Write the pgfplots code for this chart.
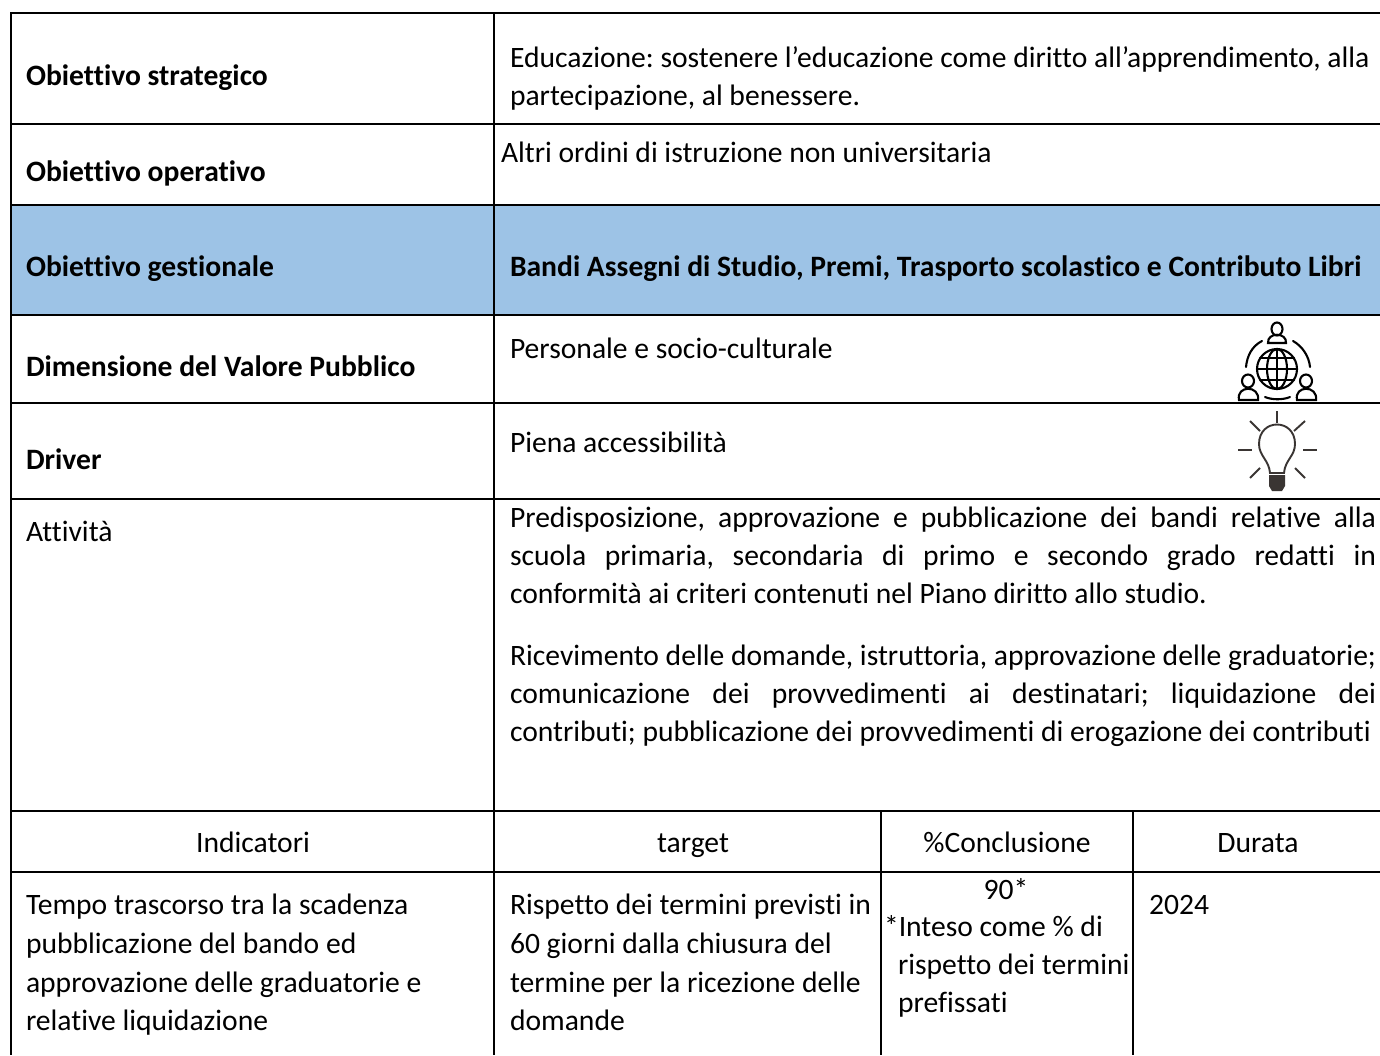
\documentclass[border=0pt]{standalone}
\usepackage{pgfplots}
\pgfplotsset{compat=1.18}
\usepackage{fontspec}
\setmainfont[RawFeature={-liga;-clig}]{Carlito}
\definecolor{rowblue}{HTML}{9DC3E6}
\definecolor{bulb}{HTML}{3A3533}
\newcommand{\T}[3]{\node[anchor=base west,inner sep=0pt,outer sep=0pt] at (axis cs:#1,#2) {\strut\smash{#3}};}
\newcommand{\C}[3]{\node[anchor=base,inner sep=0pt,outer sep=0pt] at (axis cs:#1,#2) {#3};}
\newcommand{\J}[4]{\node[anchor=base west,inner sep=0pt,outer sep=0pt] at (axis cs:#1,#2) {\makebox[#3pt][s]{#4}};}
\begin{document}
\frenchspacing
\begin{tikzpicture}
\begin{axis}[
  scale only axis, width=1380pt, height=1055pt,
  xmin=0, xmax=1380, ymin=0, ymax=1055, y dir=reverse,
  axis lines=none, ticks=none, clip=true,
  font=\fontsize{29.6}{34}\selectfont]
% background and coloured row
\addplot[draw=none,fill=white] coordinates {(0,0)(1380,0)(1380,1055)(0,1055)} -- cycle;
\addplot[draw=none,fill=rowblue] coordinates {(11,205)(1380,205)(1380,315)(11,315)} -- cycle;
% rules
\addplot[black,line width=2.8pt] coordinates {(11,13)(1380,13)};
\addplot[black,line width=2.6pt] coordinates {(11,124)(1380,124)};
\addplot[black,line width=2.8pt] coordinates {(11,205)(1380,205)};
\addplot[black,line width=2.8pt] coordinates {(11,315)(1380,315)};
\addplot[black,line width=2.6pt] coordinates {(11,403)(1380,403)};
\addplot[black,line width=2.6pt] coordinates {(11,499)(1380,499)};
\addplot[black,line width=2.6pt] coordinates {(11,811)(1380,811)};
\addplot[black,line width=2.6pt] coordinates {(11,872)(1380,872)};
\addplot[black,line width=2.8pt] coordinates {(11,12)(11,1055)};
\addplot[black,line width=2.6pt] coordinates {(494,12)(494,1055)};
\addplot[black,line width=2.6pt] coordinates {(881,811)(881,1055)};
\addplot[black,line width=2.6pt] coordinates {(1133,811)(1133,1055)};
% left column
\T{26}{85}{\bfseries Obiettivo strategico}
\T{26}{181}{\bfseries Obiettivo operativo}
\T{26}{276}{\bfseries Obiettivo gestionale}
\T{26}{376}{\bfseries Dimensione del Valore Pubblico}
\T{26}{469}{\bfseries Driver}
\T{26}{541}{Attività}
% right column
\T{510}{67}{Educazione: sostenere l’educazione come diritto all’apprendimento, alla}
\T{510}{105}{partecipazione, al benessere.}
\T{501}{162}{Altri ordini di istruzione non universitaria}
\T{510}{276}{\bfseries Bandi Assegni di Studio, Premi, Trasporto scolastico e Contributo Libri}
\T{510}{358}{Personale e socio-culturale}
\T{510}{452}{Piena accessibilità}
\J{510}{527}{866}{Predisposizione, approvazione e pubblicazione dei bandi relative alla}
\J{510}{565}{866}{scuola primaria, secondaria di primo e secondo grado redatti in}
\T{510}{603}{conformità ai criteri contenuti nel Piano diritto allo studio.}
\J{510}{665}{866}{Ricevimento delle domande, istruttoria, approvazione delle graduatorie;}
\J{510}{703}{866}{comunicazione dei provvedimenti ai destinatari; liquidazione dei}
\T{510}{741}{contributi; pubblicazione dei provvedimenti di erogazione dei contributi}
% header of the lower table
\C{253}{852}{Indicatori}
\C{693}{852}{target}
\C{1007}{852}{\%Conclusione}
\C{1258}{852}{Durata}
% lower row
\T{26}{914}{Tempo trascorso tra la scadenza}
\T{26}{953}{pubblicazione del bando ed}
\T{26}{992}{approvazione delle graduatorie e}
\T{26}{1030}{relative liquidazione}
\T{510}{914}{Rispetto dei termini previsti in}
\T{510}{953}{60 giorni dalla chiusura del}
\T{510}{992}{termine per la ricezione delle}
\T{510}{1030}{domande}
\C{1006}{899}{90*}
\T{884}{936}{*Inteso come \% di}
\T{898}{974}{rispetto dei termini}
\T{898}{1012}{prefissati}
\T{1149}{914}{2024}
% icon: globe and three people
\begin{scope}[black,line width=2.1pt,line cap=round]
\draw (axis cs:1277,369) ellipse [x radius=20,y radius=20];
\draw (axis cs:1277,349) -- (axis cs:1277,389);
\draw (axis cs:1257,369) -- (axis cs:1297,369);
\draw (axis cs:1260,358) -- (axis cs:1294,358);
\draw (axis cs:1260,380) -- (axis cs:1294,380);
\draw (axis cs:1277,369) ellipse [x radius=10,y radius=20];
\draw (axis cs:1277,329) ellipse [x radius=5.5,y radius=6.5];
\draw (axis cs:1268,343) .. controls (axis cs:1267,332) and (axis cs:1287,332) .. (axis cs:1286,343) -- cycle;
\draw (axis cs:1248,381) ellipse [x radius=6,y radius=6.5];
\draw (axis cs:1239,400) .. controls (axis cs:1236,385) and (axis cs:1260,385) .. (axis cs:1258,400) -- cycle;
\draw (axis cs:1306,381) ellipse [x radius=6,y radius=6.5];
\draw (axis cs:1297,400) .. controls (axis cs:1294,385) and (axis cs:1318,385) .. (axis cs:1316,400) -- cycle;
\draw (axis cs:1262,341) .. controls (axis cs:1252,346) and (axis cs:1247,356) .. (axis cs:1246,367);
\draw (axis cs:1293,341) .. controls (axis cs:1302,346) and (axis cs:1309,356) .. (axis cs:1310,367);
\draw (axis cs:1265,397) .. controls (axis cs:1272,400) and (axis cs:1283,400) .. (axis cs:1290,397);
\end{scope}
% icon: light bulb
\begin{scope}[bulb,line width=1.9pt]
\draw (axis cs:1270,473) .. controls (axis cs:1269,460) and (axis cs:1259,456) .. (axis cs:1259,444)
  .. controls (axis cs:1259,418) and (axis cs:1295,418) .. (axis cs:1295,444)
  .. controls (axis cs:1295,456) and (axis cs:1285,460) .. (axis cs:1284,473) -- cycle;
\fill (axis cs:1269,475) -- (axis cs:1285,475) -- (axis cs:1285,486) -- (axis cs:1282,491) -- (axis cs:1272,491) -- (axis cs:1269,486) -- cycle;
\draw (axis cs:1277,411) -- (axis cs:1277,423);
\draw (axis cs:1250,421) -- (axis cs:1260,431);
\draw (axis cs:1305,421) -- (axis cs:1294,431);
\draw (axis cs:1238,450) -- (axis cs:1252,450);
\draw (axis cs:1303,450) -- (axis cs:1317,450);
\draw (axis cs:1250,478) -- (axis cs:1260,468);
\draw (axis cs:1305,478) -- (axis cs:1295,468);
\end{scope}
\end{axis}
\end{tikzpicture}
\end{document}
